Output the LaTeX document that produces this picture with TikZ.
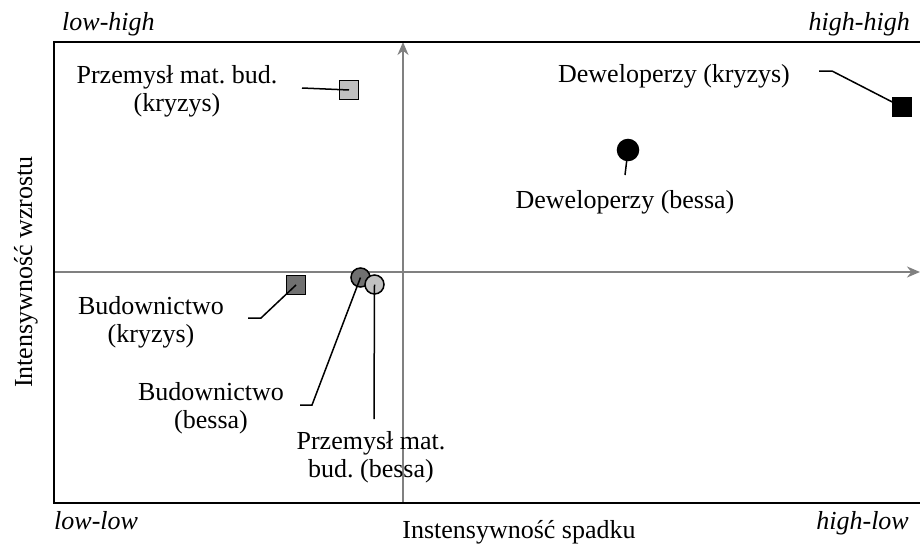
\documentclass[tikz,border=0pt]{standalone}
\usepackage{xcolor}
\usepackage{fontspec}
\setmainfont{Liberation Serif}
\usepackage{tikz}
\usetikzlibrary{arrows.meta, calc}
\definecolor{axisgray}{RGB}{128,128,128}
\definecolor{lightmark}{RGB}{192,192,192}
\definecolor{darkmark}{RGB}{112,112,112}
\frenchspacing

\begin{document}
\begin{tikzpicture}[x=1pt, y=-1pt, font=\fontsize{26}{28}\selectfont,
  sqmark/.style={draw, line width=1.5pt, minimum size=19pt, inner sep=0pt},
  dotmark/.style={draw, circle, line width=1.5pt, minimum size=19pt, inner sep=0pt},
  lead/.style={line width=1.5pt},
  lbl/.style={align=center, inner sep=0pt, anchor=base},
  corner/.style={inner sep=0pt, font=\fontsize{26}{28}\selectfont\itshape}]
\useasboundingbox (0,0) rectangle (920,543);
\coordinate (xs) at (54,272); \coordinate (xe) at (920,272);
\coordinate (ys) at (403,503); \coordinate (ye) at (403,42);
\draw[axisgray, line width=2pt, -{Stealth[length=13pt,width=11pt]}] (xs) -- (xe);
\draw[axisgray, line width=2pt, -{Stealth[length=13pt,width=11pt]}] (ys) -- (ye);
\draw[line width=2pt] (920,42) -- (54,42) -- (54,503) -- (920,503);
\node[corner, anchor=base west] (lh) at (62,31) {low-high};
\node[corner, anchor=base east] (hh) at (910,31) {high-high};
\node[corner, anchor=base west] (ll) at (54,529) {low-low};
\node[corner, anchor=base east] (hl) at (909,529) {high-low};
\node[lbl] (xlab) at (519,538) {Instensywność spadku};
\node[lbl, rotate=90] (ylab) at (32,272) {Intensywność wzrostu};
\node[sqmark, fill=lightmark] (pmk) at (349,90) {};
\node[sqmark, fill=black] (dk) at (902,107) {};
\node[dotmark, fill=black, minimum size=21pt] (db) at (628,150) {};
\node[sqmark, fill=darkmark] (bk) at (296,285) {};
\node[dotmark, fill=darkmark] (bb) at (360.5,277.5) {};
\node[dotmark, fill=lightmark] (pmb) at (374.5,284.5) {};
\node[lbl] (pmkL) at (177,111) {Przemysł mat. bud.\\(kryzys)};
\node[lbl] (dkL) at (674,82) {Deweloperzy (kryzys)};
\node[lbl] (dbL) at (625,208) {Deweloperzy (bessa)};
\node[lbl] (bkL) at (151,342) {Budownictwo\\(kryzys)};
\node[lbl] (bbL) at (211,428) {Budownictwo\\(bessa)};
\node[lbl] (pmbL) at (371,477) {Przemysł mat.\\bud. (bessa)};
\coordinate (pmkE) at (302,88);
\coordinate (dkE) at (819,71);
\coordinate (dbE) at (625,175);
\coordinate (bkE) at (248,318);
\coordinate (bbE) at (300,405);
\coordinate (pmbE) at (374,419);
\draw[lead] (pmkE) -- (pmk.center);
\draw[lead] (dkE) -- ++(13,0) -- (dk.center);
\draw[lead] (dbE) -- (db.center);
\draw[lead] (bkE) -- ++(13,0) -- (bk.center);
\draw[lead] (bbE) -- ++(12,0) -- (bb.center);
\draw[lead] (pmbE) -- (pmb.center);
\end{tikzpicture}
\end{document}
